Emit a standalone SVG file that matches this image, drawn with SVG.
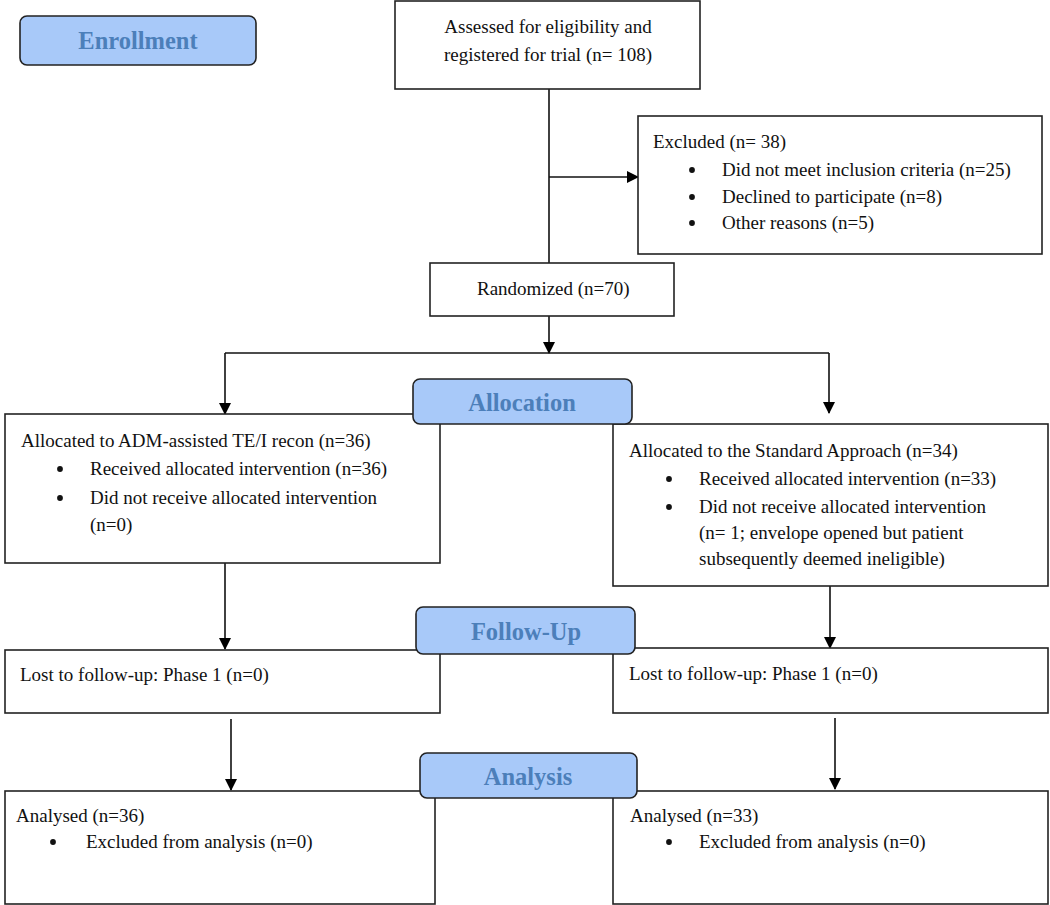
<svg xmlns="http://www.w3.org/2000/svg" width="1050" height="905" viewBox="0 0 1050 905">
<defs>
<marker id="ah" markerWidth="12" markerHeight="12" refX="11" refY="6" orient="auto" markerUnits="userSpaceOnUse">
<path d="M0,0 L12,6 L0,12 Z" fill="#000"/>
</marker>
<circle id="dot" r="2.9" fill="#111"/>
<style>
.box{fill:#fff;stroke:#222;stroke-width:1.6}
.phase{fill:#A8C9F9;stroke:#222;stroke-width:1.6}
.t{font-family:"Liberation Serif","Times New Roman",serif;font-size:19px;fill:#111}
.pt{font-family:"Liberation Serif","Times New Roman",serif;font-size:24.5px;font-weight:bold;fill:#4C7FBA;text-anchor:middle}
.c{fill:none;stroke:#111;stroke-width:1.6}
</style>
</defs>
<rect width="1050" height="905" fill="#fff"/>

<g id="connectors">
<line class="c" x1="549" y1="89" x2="549" y2="263"/>
<line class="c" x1="549" y1="177" x2="638" y2="177" marker-end="url(#ah)"/>
<line class="c" x1="549" y1="316" x2="549" y2="353" marker-end="url(#ah)"/>
<line class="c" x1="225" y1="353" x2="829" y2="353"/>
<line class="c" x1="225" y1="353" x2="225" y2="414" marker-end="url(#ah)"/>
<line class="c" x1="829" y1="353" x2="829" y2="413" marker-end="url(#ah)"/>
<line class="c" x1="225" y1="563" x2="225" y2="649" marker-end="url(#ah)"/>
<line class="c" x1="830" y1="586" x2="830" y2="648" marker-end="url(#ah)"/>
<line class="c" x1="231" y1="719" x2="231" y2="790" marker-end="url(#ah)"/>
<line class="c" x1="835" y1="718" x2="835" y2="789" marker-end="url(#ah)"/>
</g>

<g id="assessed">
<rect class="box" x="395" y="1" width="305" height="88"/>
<text class="t" x="548" y="33" text-anchor="middle">Assessed for eligibility and</text>
<text class="t" x="548" y="61" text-anchor="middle">registered for trial (n= 108)</text>
</g>

<g id="excluded">
<rect class="box" x="638" y="116" width="404" height="138"/>
<text class="t" x="653" y="148">Excluded (n= 38)</text>
<use href="#dot" x="692" y="170"/><text class="t" x="722" y="176">Did not meet inclusion criteria (n=25)</text>
<use href="#dot" x="692" y="197"/><text class="t" x="722" y="203">Declined to participate (n=8)</text>
<use href="#dot" x="692" y="223"/><text class="t" x="722" y="229">Other reasons (n=5)</text>
</g>

<g id="randomized">
<rect class="box" x="430" y="263" width="244" height="53"/>
<text class="t" x="477" y="295">Randomized (n=70)</text>
</g>

<g id="alloc-left">
<rect class="box" x="5" y="414" width="435" height="149"/>
<text class="t" x="21" y="447">Allocated to ADM-assisted TE/I recon (n=36)</text>
<use href="#dot" x="60" y="469"/><text class="t" x="90" y="475">Received allocated intervention (n=36)</text>
<use href="#dot" x="60" y="498"/><text class="t" x="90" y="504">Did not receive allocated intervention</text>
<text class="t" x="90" y="531">(n=0)</text>
</g>

<g id="alloc-right">
<rect class="box" x="613" y="424" width="435" height="162"/>
<text class="t" x="629" y="457">Allocated to the Standard Approach (n=34)</text>
<use href="#dot" x="669" y="479"/><text class="t" x="699" y="485">Received allocated intervention (n=33)</text>
<use href="#dot" x="669" y="507"/><text class="t" x="699" y="513">Did not receive allocated intervention</text>
<text class="t" x="699" y="539">(n= 1; envelope opened but patient</text>
<text class="t" x="699" y="565">subsequently deemed ineligible)</text>
</g>

<g id="lost-left">
<rect class="box" x="5" y="650" width="435" height="63"/>
<text class="t" x="20" y="681">Lost to follow-up: Phase 1 (n=0)</text>
</g>

<g id="lost-right">
<rect class="box" x="613" y="648" width="435" height="65"/>
<text class="t" x="629" y="680">Lost to follow-up: Phase 1 (n=0)</text>
</g>

<g id="analysed-left">
<rect class="box" x="5" y="791" width="430" height="113"/>
<text class="t" x="16" y="822">Analysed (n=36)</text>
<use href="#dot" x="53" y="842"/><text class="t" x="86" y="848">Excluded from analysis (n=0)</text>
</g>

<g id="analysed-right">
<rect class="box" x="613" y="791" width="435" height="113"/>
<text class="t" x="630" y="822">Analysed (n=33)</text>
<use href="#dot" x="669" y="842"/><text class="t" x="699" y="848">Excluded from analysis (n=0)</text>
</g>

<g id="enrollment">
<rect class="phase" x="20" y="16" width="236" height="49" rx="7"/>
<text class="pt" x="138" y="49">Enrollment</text>
</g>

<g id="allocation">
<rect class="phase" x="413" y="379" width="219" height="45" rx="7"/>
<text class="pt" x="522" y="411">Allocation</text>
</g>

<g id="followup">
<rect class="phase" x="416" y="607" width="219" height="47" rx="7"/>
<text class="pt" x="526" y="640">Follow-Up</text>
</g>

<g id="analysis">
<rect class="phase" x="420" y="753" width="217" height="45" rx="7"/>
<text class="pt" x="528" y="785">Analysis</text>
</g>
</svg>
